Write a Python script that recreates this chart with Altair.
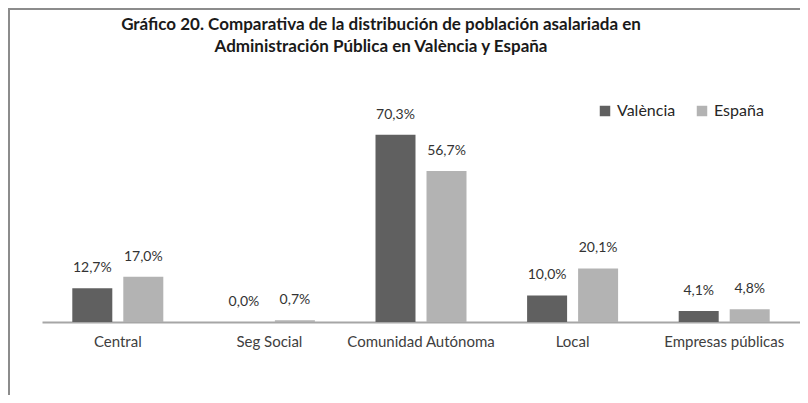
import altair as alt
import pandas as pd

categories = ["Central", "Seg Social", "Comunidad Autónoma", "Local", "Empresas públicas"]
valencia = [12.7, 0.0, 70.3, 10.0, 4.1]
espana = [17.0, 0.7, 56.7, 20.1, 4.8]
series = ["València", "España"]
colors = ["#606060", "#b3b3b3"]
title_lines = [
    "Gráfico 20. Comparativa de la distribución de población asalariada en",
    "Administración Pública en València y España",
]

rows = []
for c, v, e in zip(categories, valencia, espana):
    rows.append({"cat": c, "serie": series[0], "valor": v})
    rows.append({"cat": c, "serie": series[1], "valor": e})
df = pd.DataFrame(rows)
df["etiqueta"] = df["valor"].map(lambda v: f"{v:.1f}".replace(".", ",") + "%")

W = 758
H = 213
PAD_L, PAD_T, PAD_B = 34, 101, 73
FONT = "Lato"

x = alt.X(
    "cat:N",
    sort=categories,
    scale=alt.Scale(paddingInner=0.3272, paddingOuter=0.1636),
    axis=alt.Axis(
        title=None, labelAngle=0, ticks=False, domainColor="#a6a6a6", domainWidth=2,
        labelFontSize=15, labelColor="#404040", labelFont=FONT, labelPadding=12, grid=False,
    ),
)
xo = alt.XOffset("serie:N", sort=series, scale=alt.Scale(paddingInner=0.2157, paddingOuter=0.1078))
y = alt.Y("valor:Q", scale=alt.Scale(domain=[0, 80]), axis=None)

base = alt.Chart(df)
bars = base.mark_bar().encode(
    x=x, xOffset=xo, y=y,
    color=alt.Color(
        "serie:N", sort=series,
        scale=alt.Scale(domain=series, range=colors),
        legend=alt.Legend(
            orient="none", legendX=555, legendY=-6, direction="horizontal", title=None,
            symbolType="square", symbolSize=110, symbolStrokeWidth=0,
            labelFontSize=16, labelFont=FONT, labelColor="#262626", labelOffset=4,
            columnPadding=18, padding=0,
        ),
    ),
)
labels = base.mark_text(dy=-20, baseline="middle", fontSize=14, font=FONT, color="#333333").encode(
    x=x, xOffset=xo, y=y, text="etiqueta:N"
)

dummy = alt.Chart(pd.DataFrame({"a": [0]}))
frame_left = dummy.mark_rule(color="#8c8c8c", strokeWidth=2).encode(
    x=alt.value(-PAD_L + 1), y=alt.value(-PAD_T), y2=alt.value(H + PAD_B + 2)
)
frame_top = dummy.mark_rule(color="#8c8c8c", strokeWidth=2).encode(
    x=alt.value(-PAD_L), x2=alt.value(W), y=alt.value(-PAD_T + 1)
)
t1 = dummy.mark_text(font=FONT, fontSize=17, fontWeight="bold", color="#1a1a1a", baseline="middle").encode(
    x=alt.value(339), y=alt.value(25 - 109), text=alt.value(title_lines[0])
)
t2 = dummy.mark_text(font=FONT, fontSize=17, fontWeight="bold", color="#1a1a1a", baseline="middle").encode(
    x=alt.value(339), y=alt.value(47 - 109), text=alt.value(title_lines[1])
)

chart = alt.layer(bars, labels, frame_left, frame_top, t1, t2).properties(
    width=W, height=H,
    padding={"left": PAD_L, "top": PAD_T, "right": 0, "bottom": PAD_B},
    autosize=alt.AutoSizeParams(type="none"),
).configure_view(stroke=None)

chart.save("out.html", embed_options={"renderer": "svg", "actions": False})
